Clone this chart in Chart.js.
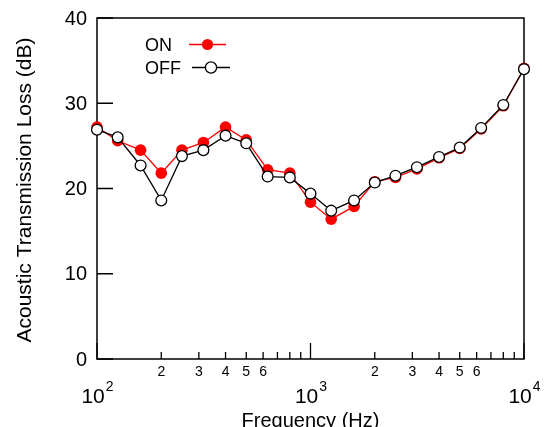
<!DOCTYPE html>
<html>
<head>
<meta charset="utf-8">
<script src="https://cdn.jsdelivr.net/npm/chart.js@4/dist/chart.umd.min.js"></script>
<style>
  html, body { margin: 0; padding: 0; background: #fff; }
  canvas { display: block; }
</style>
</head>
<body>
<canvas id="tlChart" width="544" height="427"></canvas>
<script>
// 1/3 octave band centre frequencies (Hz)
const frequencies = [100, 125, 160, 200, 250, 315, 400, 500, 630, 800, 1000, 1250, 1600, 2000, 2500, 3150, 4000, 5000, 6300, 8000, 10000];
const lossOn  = [27.2, 25.6, 24.5, 21.8, 24.5, 25.4, 27.2, 25.7, 22.2, 21.8, 18.4, 16.4, 17.9, 20.8, 21.3, 22.3, 23.6, 24.7, 27.0, 29.7, 34.1];
const lossOff = [26.9, 26.0, 22.7, 18.6, 23.8, 24.5, 26.2, 25.3, 21.4, 21.3, 19.4, 17.4, 18.6, 20.7, 21.5, 22.5, 23.7, 24.8, 27.1, 29.8, 34.0];

const yTicks = [0, 10, 20, 30, 40];
const xMajorTicks = [100, 1000, 10000];
const xMajorExponents = ['2', '3', '4'];
const xMinorTicks = [200, 300, 400, 500, 600, 700, 800, 900, 2000, 3000, 4000, 5000, 6000, 7000, 8000, 9000];
const xMinorLabels = ['2', '3', '4', '5', '6', '', '', '', '2', '3', '4', '5', '6', '', '', ''];

const FONT = '"Liberation Sans", Arial, sans-serif';

// frame + inward ticks, under the data
const framePlugin = {
    id: 'frame',
    beforeDatasetsDraw(chart) {
        const {ctx, chartArea: a, scales} = chart;
        ctx.save();
        ctx.strokeStyle = '#000';
        ctx.lineWidth = 1.5;
        ctx.strokeRect(a.left, a.top, a.right - a.left, a.bottom - a.top);

        ctx.lineWidth = 1.3;
        ctx.beginPath();
        yTicks.forEach((v) => {
            const y = scales.y.getPixelForValue(v);
            ctx.moveTo(a.left, y);
            ctx.lineTo(a.left + 16, y);
        });
        xMajorTicks.forEach((v) => {
            const x = scales.x.getPixelForValue(v);
            ctx.moveTo(x, a.bottom);
            ctx.lineTo(x, a.bottom - 16);
        });
        xMinorTicks.forEach((v) => {
            const x = scales.x.getPixelForValue(v);
            ctx.moveTo(x, a.bottom);
            ctx.lineTo(x, a.bottom - 7);
        });
        ctx.stroke();
        ctx.restore();
    }
};

// tick labels, axis titles, legend
const labelsPlugin = {
    id: 'labels',
    afterDraw(chart) {
        const {ctx, chartArea: a, scales} = chart;
        ctx.save();
        ctx.fillStyle = '#000';

        // y tick labels
        ctx.font = '20px ' + FONT;
        ctx.textAlign = 'right';
        ctx.textBaseline = 'middle';
        yTicks.forEach((v) => {
            ctx.fillText(String(v), a.left - 10, scales.y.getPixelForValue(v) + 1);
        });

        // x minor labels
        ctx.font = '14px ' + FONT;
        ctx.textAlign = 'center';
        ctx.textBaseline = 'alphabetic';
        xMinorTicks.forEach((v, i) => {
            if (xMinorLabels[i]) {
                ctx.fillText(xMinorLabels[i], scales.x.getPixelForValue(v), a.bottom + 17);
            }
        });

        // x major labels: 10 with superscript exponent
        xMajorTicks.forEach((v, i) => {
            const x = scales.x.getPixelForValue(v);
            ctx.font = '21px ' + FONT;
            const wBase = ctx.measureText('10').width;
            ctx.font = '14px ' + FONT;
            const wExp = ctx.measureText(xMajorExponents[i]).width;
            const start = x - (wBase + wExp) / 2;
            ctx.textAlign = 'left';
            ctx.font = '21px ' + FONT;
            ctx.fillText('10', start, a.bottom + 44);
            ctx.font = '14px ' + FONT;
            ctx.fillText(xMajorExponents[i], start + wBase + 1, a.bottom + 32);
        });

        // axis titles
        ctx.font = '20px ' + FONT;
        ctx.textAlign = 'center';
        ctx.fillText('Frequency (Hz)', (a.left + a.right) / 2, 427);

        ctx.save();
        ctx.translate(31, 190);
        ctx.rotate(-Math.PI / 2);
        ctx.font = '21px ' + FONT;
        ctx.textBaseline = 'alphabetic';
        ctx.fillText('Acoustic Transmission Loss (dB)', 0, 0);
        ctx.restore();

        // legend
        ctx.font = '18px ' + FONT;
        ctx.textAlign = 'left';
        ctx.textBaseline = 'alphabetic';
        ctx.fillText('ON', 145, 51);
        ctx.fillText('OFF', 145, 74);

        ctx.lineWidth = 1.3;
        ctx.strokeStyle = '#ff0000';
        ctx.beginPath();
        ctx.moveTo(189, 44.5);
        ctx.lineTo(226, 44.5);
        ctx.stroke();
        ctx.fillStyle = '#ff0000';
        ctx.beginPath();
        ctx.arc(207.5, 44.5, 5.6, 0, Math.PI * 2);
        ctx.fill();

        ctx.strokeStyle = '#000';
        ctx.beginPath();
        ctx.moveTo(192, 67.5);
        ctx.lineTo(230, 67.5);
        ctx.stroke();
        ctx.fillStyle = '#fff';
        ctx.beginPath();
        ctx.arc(211, 67.5, 5.6, 0, Math.PI * 2);
        ctx.fill();
        ctx.stroke();

        ctx.restore();
    }
};

new Chart(document.getElementById('tlChart').getContext('2d'), {
    type: 'line',
    data: {
        datasets: [{
            label: 'ON',
            data: frequencies.map((f, i) => ({x: f, y: lossOn[i]})),
            borderColor: '#ff0000',
            borderWidth: 1.3,
            backgroundColor: '#ff0000',
            pointBackgroundColor: '#ff0000',
            pointBorderColor: '#ff0000',
            pointBorderWidth: 0,
            pointRadius: 5.8,
            tension: 0,
            clip: false,
            order: 2
        }, {
            label: 'OFF',
            data: frequencies.map((f, i) => ({x: f, y: lossOff[i]})),
            borderColor: '#000',
            borderWidth: 1.3,
            backgroundColor: '#fff',
            pointBackgroundColor: '#fff',
            pointBorderColor: '#000',
            pointBorderWidth: 1.3,
            pointRadius: 5.4,
            tension: 0,
            clip: false,
            order: 1
        }]
    },
    options: {
        responsive: false,
        devicePixelRatio: 1,
        animation: false,
        events: [],
        layout: {padding: {left: 97, right: 20, top: 18, bottom: 68}},
        plugins: {legend: {display: false}, tooltip: {enabled: false}},
        scales: {
            x: {type: 'logarithmic', min: 100, max: 10000, display: false},
            y: {type: 'linear', min: 0, max: 40, display: false}
        }
    },
    plugins: [framePlugin, labelsPlugin]
});
</script>
</body>
</html>
